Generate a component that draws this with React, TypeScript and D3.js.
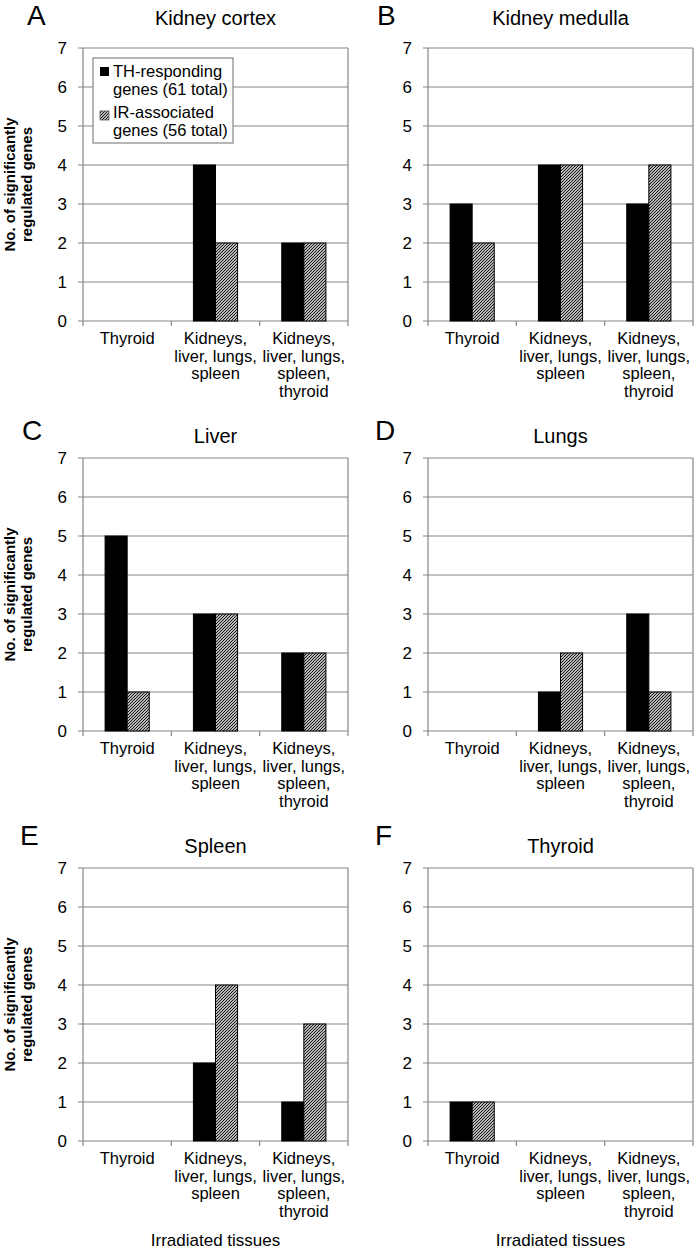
import React from "react";
import * as d3 from "d3";

const categoryLines: string[][] = [
  ["Thyroid"],
  ["Kidneys,", "liver, lungs,", "spleen"],
  ["Kidneys,", "liver, lungs,", "spleen,", "thyroid"],
];
const categories = ["Thyroid", "Kidneys, liver, lungs, spleen", "Kidneys, liver, lungs, spleen, thyroid"];
const seriesNames = ["TH", "IR"];
const legendLines = [["TH-responding", "genes (61 total)"], ["IR-associated", "genes (56 total)"]];
const panelLetters = ["A", "B", "C", "D", "E", "F"];
const panelTitles = ["Kidney cortex", "Kidney medulla", "Liver", "Lungs", "Spleen", "Thyroid"];
const thValues = [
  [0, 4, 2],
  [3, 4, 3],
  [5, 3, 2],
  [0, 1, 3],
  [0, 2, 1],
  [1, 0, 0],
];
const irValues = [
  [0, 2, 2],
  [2, 4, 4],
  [1, 3, 2],
  [0, 2, 1],
  [0, 4, 3],
  [1, 0, 0],
];
const yTicks = [0, 1, 2, 3, 4, 5, 6, 7];
const yLabelLines = ["No. of significantly", "regulated genes"];
const xAxisTitle = "Irradiated tissues";

const FONT = "'Liberation Sans', Arial, Helvetica, sans-serif";
const GRID = "#858585";

const colX = [
  [83, 348],
  [428, 693],
];
const rowTop = [48, 458, 868];
const rowBottom = [321, 731, 1141];
const titleBase = [25, 443, 853];
const letterBase = [25, 440, 845];
const letterX = [
  [27, 377],
  [22, 375],
  [20, 375],
];

function Panel({ idx }: { idx: number }) {
  const row = Math.floor(idx / 2);
  const col = idx % 2;
  const [x0, x1] = colX[col];
  const yTop = rowTop[row];
  const yBot = rowBottom[row];
  const xBand = d3.scaleBand<string>().domain(categories).range([x0, x1]).padding(0);
  const xSub = d3.scaleBand<string>().domain(seriesNames).range([0, xBand.bandwidth()]).paddingOuter(1).paddingInner(0);
  const y = d3.scaleLinear().domain([0, 7]).range([yBot, yTop]);
  const th = thValues[idx];
  const ir = irValues[idx];
  const cx = (x0 + x1) / 2;
  return (
    <g>
      <text x={letterX[row][col]} y={letterBase[row]} fontSize={28} fontFamily={FONT}>
        {panelLetters[idx]}
      </text>
      <text x={cx} y={titleBase[row]} fontSize={20} fontFamily={FONT} textAnchor="middle">
        {panelTitles[idx]}
      </text>
      {yTicks.map((t) => (
        <line key={"g" + t} x1={x0 - 5} x2={x1} y1={y(t)} y2={y(t)} stroke={GRID} strokeWidth={1.2} />
      ))}
      <line x1={x0} x2={x0} y1={yTop} y2={yBot} stroke={GRID} strokeWidth={1.2} />
      <line x1={x1} x2={x1} y1={yTop} y2={yBot} stroke={GRID} strokeWidth={1.2} />
      {[...categories.map((c) => xBand(c) as number), x1].map((xv, i) => (
        <line key={"xt" + i} x1={xv} x2={xv} y1={yBot} y2={yBot + 5} stroke={GRID} strokeWidth={1.2} />
      ))}
      {yTicks.map((t) => (
        <text key={"yl" + t} x={x0 - 16} y={y(t) + 6} fontSize={17} fontFamily={FONT} textAnchor="end">
          {t}
        </text>
      ))}
      {categories.map((c, ci) => {
        const bx = xBand(c) as number;
        return (
          <g key={"b" + ci}>
            {th[ci] > 0 && (
              <rect
                x={bx + (xSub("TH") as number)}
                y={y(th[ci])}
                width={xSub.bandwidth()}
                height={y(0) - y(th[ci])}
                fill="#000"
                stroke="#000"
                strokeWidth={1}
              />
            )}
            {ir[ci] > 0 && (
              <rect
                x={bx + (xSub("IR") as number)}
                y={y(ir[ci])}
                width={xSub.bandwidth()}
                height={y(0) - y(ir[ci])}
                fill="url(#hatch)"
                stroke="#000"
                strokeWidth={1}
              />
            )}
          </g>
        );
      })}
      {categories.map((c, ci) => {
        const mx = (xBand(c) as number) + xBand.bandwidth() / 2;
        return (
          <text key={"cl" + ci} x={mx} y={yBot + 23} fontSize={16.5} fontFamily={FONT} textAnchor="middle">
            {categoryLines[ci].map((ln, li) => (
              <tspan key={li} x={mx} dy={li === 0 ? 0 : 17.5}>
                {ln}
              </tspan>
            ))}
          </text>
        );
      })}
      {col === 0 && (
        <text
          transform={`translate(${15},${(yTop + yBot) / 2}) rotate(-90)`}
          fontSize={15}
          fontWeight="bold"
          fontFamily={FONT}
          textAnchor="middle"
        >
          <tspan x={0} dy={0}>{yLabelLines[0]}</tspan>
          <tspan x={0} dy={17}>{yLabelLines[1]}</tspan>
        </text>
      )}
      {row === 2 && (
        <text x={cx} y={1246} fontSize={17} fontFamily={FONT} textAnchor="middle">
          {xAxisTitle}
        </text>
      )}
      {idx === 0 && (
        <g>
          <rect x={93} y={58} width={140} height={85} fill="#fff" stroke={GRID} strokeWidth={1.2} />
          <rect x={100} y={67} width={9} height={9} fill="#000" />
          <rect x={100} y={111} width={9} height={9} fill="url(#hatch)" stroke="#555" strokeWidth={0.8} />
          <text x={113} y={77} fontSize={16.5} fontFamily={FONT}>
            <tspan x={113} dy={0}>{legendLines[0][0]}</tspan>
            <tspan x={113} dy={18}>{legendLines[0][1]}</tspan>
          </text>
          <text x={113} y={118} fontSize={16.5} fontFamily={FONT}>
            <tspan x={113} dy={0}>{legendLines[1][0]}</tspan>
            <tspan x={113} dy={18}>{legendLines[1][1]}</tspan>
          </text>
        </g>
      )}
    </g>
  );
}

export default function App() {
  return (
    <div style={{ position: "absolute", left: 0, top: 0 }}>
      <svg width={700} height={1249} style={{ display: "block", background: "#fff" }}>
        <defs>
          <pattern id="hatch" patternUnits="userSpaceOnUse" width={3} height={3}>
            <rect width={3} height={3} fill="#b5b5b5" />
            <path d="M-1,1 L1,-1 M0,3 L3,0 M2,4 L4,2" stroke="#1a1a1a" strokeWidth={1} />
          </pattern>
        </defs>
        {panelLetters.map((_, i) => (
          <Panel key={i} idx={i} />
        ))}
      </svg>
    </div>
  );
}
